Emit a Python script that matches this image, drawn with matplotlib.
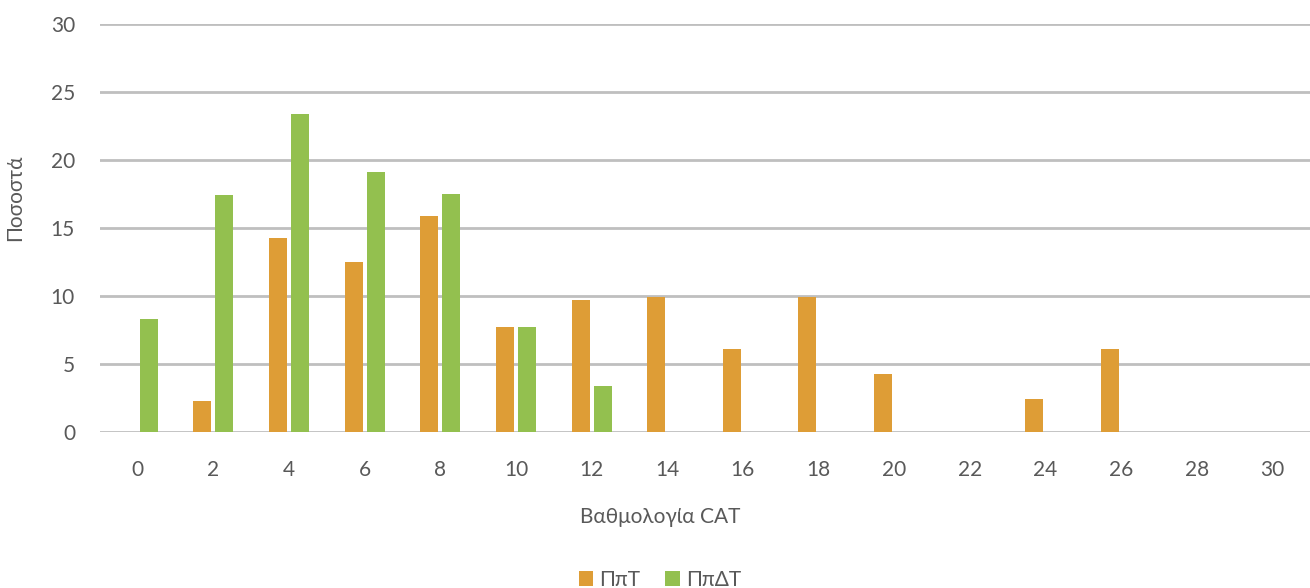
import matplotlib.pyplot as plt
import numpy as np

# CAT score categories and the percentage for each group
scores = [0, 2, 4, 6, 8, 10, 12, 14, 16, 18, 20, 22, 24, 26, 28, 30]
ppt = [0, 2.3, 14.3, 12.5, 15.9, 7.7, 9.7, 9.9, 6.1, 9.9, 4.3, 0, 2.4, 6.1, 0, 0]
ppdt = [8.3, 17.4, 23.4, 19.1, 17.5, 7.7, 3.4, 0, 0, 0, 0, 0, 0, 0, 0, 0]
series_names = ["ΠπΤ", "ΠπΔΤ"]

plt.rcParams["font.family"] = ["Lato", "DejaVu Sans"]
text_color = "#595959"
grid_color = "#BFBFBF"
orange = "#DE9D36"
green = "#93C04F"

fig = plt.figure(figsize=(13.1, 5.88), dpi=100)
ax = fig.add_axes([100 / 1310, 1 - 432 / 588, 1 - 100 / 1310, (432 - 24) / 588])

x = np.arange(len(scores))
w = 0.238
off = 0.145
b1 = ax.bar(x - off, ppt, width=w, color=orange, label=series_names[0], zorder=3)
b2 = ax.bar(x + off, ppdt, width=w, color=green, label=series_names[1], zorder=3)

ax.set_xlim(-0.5, len(scores) - 0.5)
ax.set_ylim(0, 30)
ax.set_yticks(np.arange(0, 31, 5))
ax.set_xticks(x)
ax.set_xticklabels([str(s) for s in scores])
ax.yaxis.grid(True, color=grid_color, linewidth=2)
ax.set_axisbelow(True)
for s in ax.spines.values():
    s.set_visible(False)
ax.tick_params(axis="both", length=0, labelsize=15, colors=text_color)
ax.tick_params(axis="y", pad=18)
ax.tick_params(axis="x", pad=20)

fig.text(15 / 1310, 1 - 198 / 588, "Ποσοστά", rotation=90, ha="center", va="center",
         fontsize=15, color=text_color)
fig.text(660 / 1310, 1 - 517 / 588, "Βαθμολογία CAT", ha="center", va="center",
         fontsize=15, color=text_color)

leg = fig.legend(handles=[b1, b2], loc="center", bbox_to_anchor=(660 / 1310, 1 - 580 / 588),
                 ncol=2, frameon=False, fontsize=15, handlelength=0.7, handleheight=0.7,
                 handletextpad=0.3, columnspacing=1.2)
for t in leg.get_texts():
    t.set_color(text_color)

fig.savefig("out.png", dpi=100)
